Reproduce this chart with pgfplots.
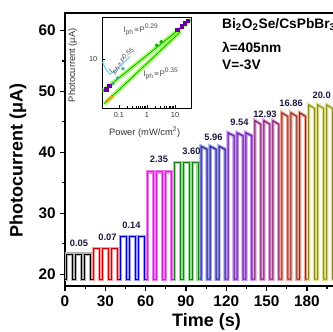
\documentclass[border=0pt]{standalone}
\usepackage{pgfplots}
\pgfplotsset{compat=1.18}
\usepackage{fontspec}
\setmainfont{Liberation Sans}
\newfontfamily\dejavu{DejaVu Sans}
\newcommand{\prop}{{\dejavu ∝}}
\definecolor{g3l}{HTML}{F27AF2}\definecolor{g3d}{HTML}{D020D0}
\definecolor{g4l}{HTML}{8EE08E}\definecolor{g4d}{HTML}{207A20}
\definecolor{g5l}{HTML}{9C9CF0}\definecolor{g5d}{HTML}{20207A}
\definecolor{g6l}{HTML}{C890F2}\definecolor{g6d}{HTML}{5A1A90}
\definecolor{g7l}{HTML}{E6A0E6}\definecolor{g7d}{HTML}{6A1A48}
\definecolor{g8l}{HTML}{F2A898}\definecolor{g8d}{HTML}{7A2A2A}
\definecolor{g9l}{HTML}{E2E28A}\definecolor{g9d}{HTML}{8A8A20}
\definecolor{lab}{HTML}{1A1A40}
\newcommand{\grp}[3]{%
 \addplot[color=#1, line width=2.6pt] coordinates {#3};
 \addplot[color=#2, line width=0.75pt] coordinates {#3};
}
\begin{document}
\begin{tikzpicture}
\useasboundingbox (-48.75pt,-34.5pt) rectangle (201pt,214.5pt);
\begin{axis}[
  name=main,
  at={(0,0)}, anchor=south west,
  width=203pt, height=204.75pt, scale only axis,
  xmin=0, xmax=201.4, ymin=18.08, ymax=62.86,
  xtick={0,30,60,90,120,150,180},
  minor xtick={15,45,75,105,135,165,195},
  ytick={20,30,40,50,60},
  minor ytick={25,35,45,55},
  xtick pos=bottom, ytick pos=left,
  tick align=outside,
  major tick length=3.5pt, minor tick length=2pt,
  every tick/.style={black, line width=0.9pt},
  axis line style={line width=1.2pt},
  /pgf/number format/assume math mode=true,
  tick label style={font=\bfseries\fontsize{11.5}{12}\selectfont},
  xlabel={Time (s)}, ylabel={Photocurrent (μA)},
  label style={font=\bfseries\fontsize{13.5}{14}\selectfont},
  xlabel style={at={(axis description cs:0.523,-0.132)}, anchor=center},
  ylabel style={at={(axis description cs:-0.174,0.46)}, anchor=center},
  clip=true,
]
\grp{black!30}{black}{(0,19.2)(1.3,19.2)(1.3,23.3)(5.8,23.3)(5.8,19.2)(8.0,19.2)(8.0,23.3)(12.5,23.3)(12.5,19.2)(14.6,19.2)(14.6,23.3)(19.1,23.3)(19.1,19.2)(20,19.2)}
\grp{red!40}{red!80!black}{(20,19.2)(21.3,19.2)(21.3,24.2)(25.8,24.2)(25.8,19.2)(28.0,19.2)(28.0,24.2)(32.5,24.2)(32.5,19.2)(34.6,19.2)(34.6,24.2)(39.1,24.2)(39.1,19.2)(40,19.2)}
\grp{blue!40}{blue!80!black}{(40,19.2)(41.3,19.2)(41.3,26.2)(45.8,26.2)(45.8,19.2)(48.0,19.2)(48.0,26.2)(52.5,26.2)(52.5,19.2)(54.6,19.2)(54.6,26.2)(59.1,26.2)(59.1,19.2)(60,19.2)}
\grp{g3l}{g3d}{(60,19.2)(61.3,19.2)(61.3,36.8)(65.8,36.8)(65.8,19.2)(68.0,19.2)(68.0,36.8)(72.5,36.8)(72.5,19.2)(74.6,19.2)(74.6,36.8)(79.1,36.8)(79.1,19.2)(80,19.2)}
\grp{g4l}{g4d}{(80,19.2)(81.3,19.2)(81.3,38.3)(85.8,38.3)(85.8,19.2)(88.0,19.2)(88.0,38.3)(92.5,38.3)(92.5,19.2)(94.6,19.2)(94.6,38.3)(99.1,38.3)(99.1,19.2)(100,19.2)}
\grp{g5l}{g5d}{(100,19.2)(101.3,19.2)(101.3,41.0)(105.8,40.5)(105.8,19.2)(108.0,19.2)(108.0,41.0)(112.5,40.5)(112.5,19.2)(114.6,19.2)(114.6,41.0)(119.1,40.5)(119.1,19.2)(120,19.2)}
\grp{g6l}{g6d}{(120,19.2)(121.3,19.2)(121.3,43.2)(125.8,42.7)(125.8,19.2)(128.0,19.2)(128.0,43.2)(132.5,42.7)(132.5,19.2)(134.6,19.2)(134.6,43.2)(139.1,42.7)(139.1,19.2)(140,19.2)}
\grp{g7l}{g7d}{(140,19.2)(141.3,19.2)(141.3,45.2)(145.8,44.6)(145.8,19.2)(148.0,19.2)(148.0,45.2)(152.5,44.6)(152.5,19.2)(154.6,19.2)(154.6,45.2)(159.1,44.6)(159.1,19.2)(160,19.2)}
\grp{g8l}{g8d}{(160,19.2)(161.3,19.2)(161.3,46.5)(165.8,45.9)(165.8,19.2)(168.0,19.2)(168.0,46.5)(172.5,45.9)(172.5,19.2)(174.6,19.2)(174.6,46.5)(179.1,45.9)(179.1,19.2)(180,19.2)}
\grp{g9l}{g9d}{(180,19.2)(181.3,19.2)(181.3,47.8)(185.8,47.2)(185.8,19.2)(188.0,19.2)(188.0,47.8)(192.5,47.2)(192.5,19.2)(194.6,19.2)(194.6,47.8)(199.1,47.2)(199.1,19.2)(201.4,19.2)}
\begin{scope}[every node/.style={font=\bfseries\fontsize{7}{7}\selectfont, text=lab, inner sep=0pt}]
\node at (axis cs:10.4,25.1) {0.05};
\node at (axis cs:31.6,26.1) {0.07};
\node at (axis cs:49.5,28.1) {0.14};
\node at (axis cs:69.9,38.8) {2.35};
\node at (axis cs:94.1,40.1) {3.60};
\node at (axis cs:110.5,42.5) {5.96};
\node at (axis cs:129.8,44.9) {9.54};
\node at (axis cs:148.8,46.3) {12.93};
\node at (axis cs:168.2,48.1) {16.86};
\node at (axis cs:191,49.4) {20.0};
\end{scope}
\begin{scope}[every node/.style={font=\bfseries\fontsize{10.3}{11}\selectfont, anchor=west, inner sep=0pt}]
\node at (axis cs:116.8,60.9) {Bi\textsubscript{2}O\textsubscript{2}Se/CsPbBr\textsubscript{3}};
\node at (axis cs:116.8,57.2) {λ=405nm};
\node at (axis cs:116.8,54.4) {V=-3V};
\end{scope}
\end{axis}
\begin{axis}[
  at={(27.75pt,133.5pt)}, anchor=south west,
  width=66.75pt, height=68.25pt, scale only axis,
  xmode=log, ymode=log,
  xmin=0.025, xmax=37, ymin=2.25, ymax=35.6,
  xtick={0.1,1,10}, xticklabels={0.1,1,10},
  ytick={10}, yticklabels={10},
  xtick pos=bottom, ytick pos=left,
  tick align=inside,
  major tick length=2pt, minor tick length=1.2pt,
  every tick/.style={black, line width=0.4pt},
  axis line style={line width=0.6pt},
  axis background/.style={fill=white},
  /pgf/number format/assume math mode=true,
  tick label style={font=\fontsize{5.5}{6}\selectfont, text=black!80},
  xlabel={Power (mW/cm\textsuperscript{2})}, ylabel={Photocurrent (μA)},
  label style={font=\fontsize{7}{7.5}\selectfont, text=black!80},
  xlabel style={at={(axis description cs:0.48,-0.27)}, anchor=center},
  ylabel style={at={(axis description cs:-0.33,0.47)}, anchor=center},
  clip=true,
]
\addplot[color=green!60!yellow, opacity=0.6, line width=3.2pt] coordinates {(0.025,3.7)(36,32.5)};
\addplot[color=green!60!black, line width=0.5pt] coordinates {(0.025,3.7)(36,32.5)};
\addplot[color=green!60!yellow, opacity=0.6, line width=3.2pt] coordinates {(0.03,2.56)(15.3,22.6)};
\addplot[color=green!60!black, line width=0.5pt] coordinates {(0.03,2.56)(15.3,22.6)};
\addplot[color=cyan!60, line width=0.8pt] coordinates {(0.026,9.1)(0.035,7.2)(0.048,6.3)(0.07,6.8)(0.12,8.2)(0.25,10.8)};
\addplot[only marks, mark=square*, mark size=1.3pt, color=violet!80!blue] coordinates {(0.035,4.0)(0.045,4.4)(12,24.0)(17,27.0)(22,29.5)(28,32.0)};
\addplot[only marks, mark=*, mark size=1.1pt, color=teal!70] coordinates {(0.061,4.7)(0.09,5.6)(0.14,7.4)};
\addplot[only marks, mark=*, mark size=1.3pt, color=orange!80!yellow] coordinates {(0.041,2.85)(0.055,3.14)};
\addplot[only marks, mark=*, mark size=1.1pt, color=green!70!black] coordinates {(2.2,15.1)(3.2,16.8)};
\node[font=\fontsize{6}{6}\selectfont, text=black!70] at (axis cs:0.61,24) {I\textsubscript{ph}\prop P\textsuperscript{0.29}};
\node[font=\fontsize{6}{6}\selectfont, text=black!70] at (axis cs:3.16,6.3) {I\textsubscript{ph}\prop P\textsuperscript{0.35}};
\node[font=\fontsize{5}{5}\selectfont, text=black!70, rotate=40, inner sep=0pt] at (axis cs:0.14,9.2) {I\textsubscript{ph}\prop P\textsuperscript{0.55}};
\end{axis}
\end{tikzpicture}
\end{document}
